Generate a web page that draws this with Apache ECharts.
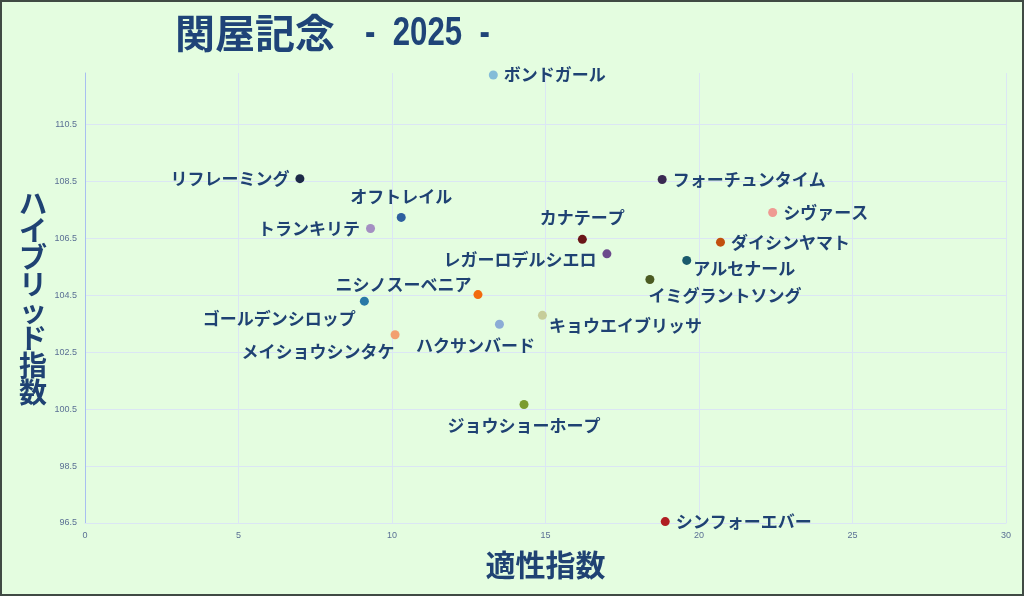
<!DOCTYPE html>
<html>
<head>
<meta charset="utf-8">
<script src="https://cdn.jsdelivr.net/npm/echarts@6/dist/echarts.min.js"></script>
<style>
  html, body { margin: 0; padding: 0; background: #e4fde0; }
  #chart { width: 1020px; height: 592px; border: 2px solid #404a44; }
</style>
</head>
<body>
<div id="chart"></div>
<script>
// horses, 適性指数 (x) and ハイブリッド指数 (y)
const horses = [
  'ボンドガール', 'リフレーミング', 'オフトレイル', 'トランキリテ', 'ニシノスーベニア',
  'ゴールデンシロップ', 'メイショウシンタケ', 'ハクサンバード', 'キョウエイブリッサ',
  'ジョウショーホープ', 'シンフォーエバー', 'フォーチュンタイム', 'シヴァース',
  'カナテープ', 'レガーロデルシエロ', 'ダイシンヤマト', 'アルセナール', 'イミグラントソング'
]
const fitness = [13.3, 7.0, 10.3, 9.3, 12.8, 9.1, 10.1, 13.5, 14.9, 14.3, 18.9, 18.8, 22.4, 16.2, 17.0, 20.7, 19.6, 18.4]
const hybrid = [112.23, 108.59, 107.23, 106.84, 104.52, 104.29, 103.11, 103.48, 103.79, 100.66, 96.55, 108.56, 107.4, 106.46, 105.95, 106.36, 105.72, 105.05]
const xTicks = { min: 0, max: 30, interval: 5 }
const yTicks = { min: 96.5, max: 112.3, interval: 2 }

const dotColors = [
  '#84bcd8', '#1d2a48', '#2e5f9f', '#a48fc2', '#f26a0e',
  '#2878a6', '#f2a070', '#8cacd6', '#c6cd9a',
  '#7a9b30', '#b01e22', '#3a2952', '#ef9a92',
  '#6b1618', '#6c4a8c', '#c2500e', '#1a5a6c', '#4b5b22'
]
// where each name sits next to its dot
const labelPlace = {
  'ボンドガール': { position: 'right' },
  'リフレーミング': { position: 'left' },
  'オフトレイル': { position: 'top', distance: 8 },
  'トランキリテ': { position: 'left' },
  'ニシノスーベニア': { position: 'left', offset: [4, -10] },
  'ゴールデンシロップ': { position: 'left', offset: [2, 17] },
  'メイショウシンタケ': { position: 'left', offset: [10, 17] },
  'ハクサンバード': { position: 'bottom', offset: [-24, 2] },
  'キョウエイブリッサ': { position: 'right', offset: [-4, 10] },
  'ジョウショーホープ': { position: 'bottom', distance: 8 },
  'シンフォーエバー': { position: 'right' },
  'フォーチュンタイム': { position: 'right' },
  'シヴァース': { position: 'right' },
  'カナテープ': { position: 'top', distance: 9 },
  'レガーロデルシエロ': { position: 'left', offset: [0, 6] },
  'ダイシンヤマト': { position: 'right' },
  'アルセナール': { position: 'right', offset: [-4, 8] },
  'イミグラントソング': { position: 'right', offset: [-12, 16] }
}

const navy = '#1f4273'
const titleBlue = '#1f4478'
const jp = '"Noto Sans CJK JP", "Noto Sans", sans-serif'

const points = horses.map((name, i) => ({
  name,
  value: [fitness[i], hybrid[i]],
  itemStyle: { color: dotColors[i], opacity: 1 },
  label: labelPlace[name]
}))

const myChart = echarts.init(document.getElementById('chart'))
myChart.setOption({
  backgroundColor: '#e4fde0',
  animation: false,
  title: {
    text: '関屋記念',
    left: 168,
    top: 6,
    textStyle: { fontFamily: jp, fontSize: 40, fontWeight: 'bold', color: titleBlue }
  },
  // condensed year part of the title
  graphic: [{
    type: 'text',
    x: 363,
    y: 12,
    scaleX: 0.78,
    style: {
      text: '-  2025  -',
      font: 'bold 40px "Liberation Sans", sans-serif',
      fill: titleBlue,
      textVerticalAlign: 'top'
    }
  }],
  grid: { left: 83, right: 16, top: 71, bottom: 71, containLabel: false },
  xAxis: {
    type: 'value',
    min: xTicks.min,
    max: xTicks.max,
    interval: xTicks.interval,
    name: '適性指数',
    nameLocation: 'middle',
    nameGap: 27,
    nameTextStyle: { fontFamily: jp, fontSize: 30, fontWeight: 'bold', color: navy },
    axisLine: { show: true, lineStyle: { color: '#dbe6f4' } },
    axisTick: { show: false },
    axisLabel: { fontSize: 9, color: '#5a6f94', margin: 8, fontFamily: 'Liberation Sans' },
    splitLine: { lineStyle: { color: '#dbe6f4' } }
  },
  yAxis: {
    type: 'value',
    min: yTicks.min,
    max: yTicks.max,
    interval: yTicks.interval,
    name: 'ハイブリッド指数'.split('').join('\n'),
    nameLocation: 'middle',
    nameRotate: 0,
    nameGap: 38,
    nameTextStyle: { fontFamily: jp, fontSize: 28, fontWeight: 'bold', color: navy, lineHeight: 27 },
    axisLine: { show: true, lineStyle: { color: '#a8bff0' } },
    axisTick: { show: false },
    axisLabel: {
      fontSize: 9, color: '#5a6f94', margin: 8, fontFamily: 'Liberation Sans',
      showMaxLabel: false,
      formatter: v => v.toFixed(1)
    },
    splitLine: { showMaxLine: false, lineStyle: { color: '#dbe6f4' } }
  },
  series: [{
    type: 'scatter',
    symbolSize: 9,
    data: points,
    label: {
      show: true,
      formatter: '{b}',
      fontFamily: jp,
      fontSize: 17,
      fontWeight: 'bold',
      color: navy,
      distance: 6
    }
  }]
})
</script>
</body>
</html>
